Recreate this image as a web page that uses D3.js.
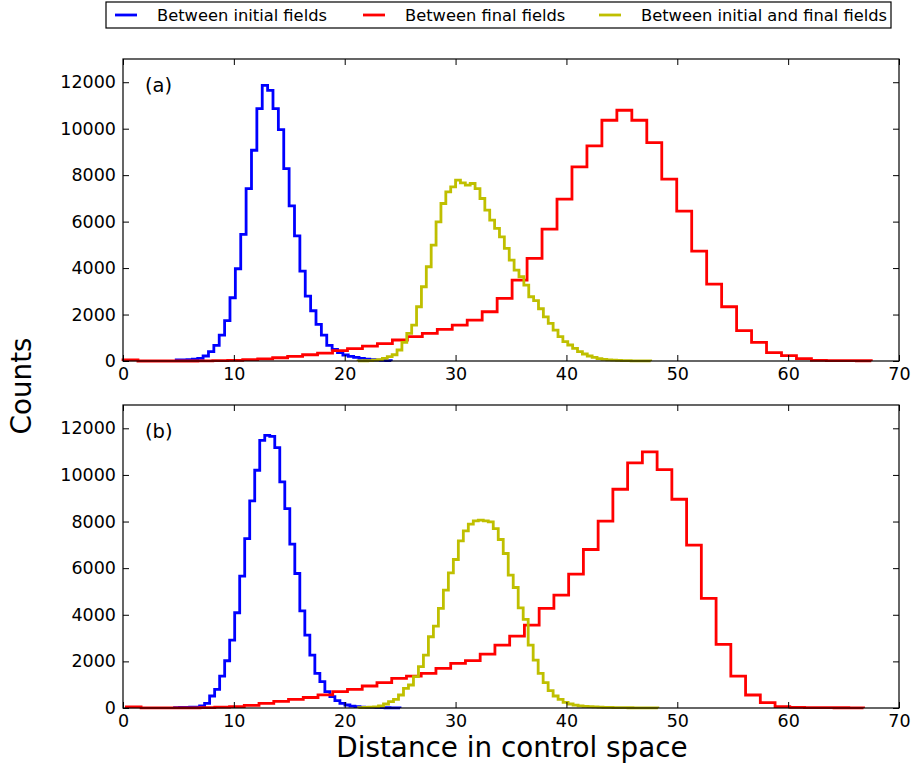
<!DOCTYPE html>
<html>
<head>
<meta charset="utf-8">
<script src="https://cdn.jsdelivr.net/npm/d3@7"></script>
<style>
  body { margin: 0; background: #fff; }
  svg { display: block; font-family: "DejaVu Sans", sans-serif; }
</style>
</head>
<body>
<svg id="grafico" width="912" height="767"></svg>
<script>
// nomes das series (legenda)
var nomesSeries = ["Between initial fields", "Between final fields", "Between initial and final fields"];
var coresSeries = ["#0000ff", "#ff0000", "#bfbf00"];
var rotulosPaineis = ["(a)", "(b)"];

var ticksX = [0, 10, 20, 30, 40, 50, 60, 70];
var ticksY = [0, 2000, 4000, 6000, 8000, 10000, 12000];

// bins: inicio e largura de cada histograma
var inicioBinsA = [4.8, 0.0, 21.2];
var larguraBinsA = [0.485, 1.35, 0.44];
var inicioBinsB = [4.65, 0.3, 21.25];
var larguraBinsB = [0.452, 1.33, 0.45];

// painel (a)
var iniciaisA = [50, 50, 60, 80, 115, 215, 402, 674, 1118, 1734,
  2723, 3970, 5447, 7424, 9073, 10865, 11868, 11653, 10865, 9962,
  8285, 6679, 5390, 3870, 2795, 2164, 1577, 1118, 674, 502,
  358, 258, 200, 158, 110, 80, 60, 40, 30, 20];
var finaisA = [50, 0, 0, 0, 0, 5, 15, 30, 55, 90,
  140, 200, 270, 340, 450, 530, 637, 752, 903, 1046,
  1190, 1362, 1548, 1763, 2121, 2695, 3483, 4415, 5676, 6966,
  8355, 9258, 10363, 10793, 10363, 9403, 7826, 6450, 4730, 3311,
  2336, 1304, 802, 358, 229, 100, 30, 20, 15, 10];
var cruzadosA = [5, 10, 20, 35, 60, 110, 186, 270, 473, 800,
  1190, 1548, 2336, 3196, 4057, 4988, 5991, 6780, 7281, 7496,
  7783, 7668, 7568, 7640, 7424, 6995, 6493, 6063, 5705, 5347,
  4845, 4343, 3913, 3626, 3268, 2766, 2600, 2250, 1900, 1619,
  1333, 1046, 831, 688, 545, 401, 301, 215, 158, 100,
  72, 50, 35, 25, 18, 12, 9, 6, 4, 3];

// painel (b)
var iniciaisB = [20, 25, 30, 35, 40, 86, 200, 514, 800, 1371,
  2028, 2914, 4086, 5657, 7271, 8886, 10200, 11486, 11700, 11657,
  11171, 9700, 8557, 7028, 5771, 4171, 3129, 2271, 1486, 1128,
  700, 486, 314, 200, 129, 80, 57, 40, 30, 25,
  20, 15, 10, 8, 5];
var finaisB = [50, 5, 5, 5, 5, 15, 35, 60, 110, 200,
  280, 370, 450, 560, 700, 800, 943, 1086, 1271, 1371,
  1486, 1700, 1914, 2029, 2314, 2700, 3086, 3557, 4271, 4843,
  5743, 6800, 8014, 9386, 10514, 10986, 10229, 8957, 6986, 4700,
  2729, 1371, 557, 229, 57, 30, 20, 15, 10, 5];
var cruzadosB = [15, 25, 35, 50, 86, 171, 271, 371, 557, 843,
  986, 1343, 1771, 2271, 3057, 3514, 4271, 5057, 5800, 6371,
  7171, 7600, 7886, 8029, 8057, 8029, 7986, 7700, 7229, 6629,
  5700, 5171, 4300, 3800, 2700, 2057, 1486, 1086, 743, 514,
  371, 243, 171, 120, 90, 70, 55, 45, 35, 30,
  25, 20, 16, 13, 10, 8, 6, 5, 4, 3];

var paineis = [
  { rotulo: rotulosPaineis[0], topo: 59, base: 361, series: [iniciaisA, finaisA, cruzadosA], inicio: inicioBinsA, largura: larguraBinsA },
  { rotulo: rotulosPaineis[1], topo: 405, base: 708, series: [iniciaisB, finaisB, cruzadosB], inicio: inicioBinsB, largura: larguraBinsB }
];

var svg = d3.select("#grafico");
var esquerda = 123, direita = 899;

var x = d3.scaleLinear().domain([0, 70]).range([esquerda, direita]);

function pontosDegrau(valores, inicio, largura) {
  // contorno tipo "step" do matplotlib
  var pts = [[inicio, 0]];
  valores.forEach(function(v, i) {
    pts.push([inicio + i * largura, v]);
    pts.push([inicio + (i + 1) * largura, v]);
  });
  pts.push([inicio + valores.length * largura, 0]);
  return pts;
}

paineis.forEach(function(p) {
  var y = d3.scaleLinear().domain([0, 13000]).range([p.base, p.topo]);
  var g = svg.append("g");

  var linha = d3.line()
    .x(function(d) { return x(d[0]); })
    .y(function(d) { return y(d[1]); });

  p.series.forEach(function(valores, i) {
    g.append("path")
      .attr("d", linha(pontosDegrau(valores, p.inicio[i], p.largura[i])))
      .attr("fill", "none")
      .attr("stroke", coresSeries[i])
      .attr("stroke-width", 2.8)
      .attr("stroke-linejoin", "miter");
  });

  // eixos com ticks para dentro
  var eixoBaixo = g.append("g")
    .attr("transform", "translate(0," + p.base + ")")
    .call(d3.axisBottom(x).tickValues(ticksX).tickSize(-6).tickPadding(7).tickFormat(d3.format("d")));
  var eixoTopo = g.append("g")
    .attr("transform", "translate(0," + p.topo + ")")
    .call(d3.axisTop(x).tickValues(ticksX).tickSize(-6).tickFormat(""));
  var eixoEsq = g.append("g")
    .attr("transform", "translate(" + esquerda + ",0)")
    .call(d3.axisLeft(y).tickValues(ticksY).tickSize(-6).tickPadding(7).tickFormat(d3.format("d")));
  var eixoDir = g.append("g")
    .attr("transform", "translate(" + direita + ",0)")
    .call(d3.axisRight(y).tickValues(ticksY).tickSize(-6).tickFormat(""));

  [eixoBaixo, eixoTopo, eixoEsq, eixoDir].forEach(function(e) {
    e.select(".domain").remove();
    e.selectAll("line").attr("stroke", "#000");
    e.selectAll("text").attr("font-family", "DejaVu Sans").attr("font-size", 17.5).attr("fill", "#000");
  });

  g.append("rect")
    .attr("x", esquerda).attr("y", p.topo)
    .attr("width", direita - esquerda).attr("height", p.base - p.topo)
    .attr("fill", "none").attr("stroke", "#000").attr("stroke-width", 1.2);

  g.append("text")
    .attr("x", esquerda + 22).attr("y", p.topo + 33)
    .attr("font-size", 19.5)
    .text(p.rotulo);
});

// rotulos dos eixos
svg.append("text")
  .attr("x", 512).attr("y", 757)
  .attr("text-anchor", "middle")
  .attr("font-size", 27.8)
  .text("Distance in control space");

svg.append("text")
  .attr("transform", "translate(31,386) rotate(-90)")
  .attr("text-anchor", "middle")
  .attr("font-size", 27.8)
  .text("Counts");

// legenda
var legenda = svg.append("g");
legenda.append("rect")
  .attr("x", 106).attr("y", 2).attr("width", 785).attr("height", 26)
  .attr("fill", "#fff").attr("stroke", "#000").attr("stroke-width", 1.2);
var posLegenda = [115, 363, 599];
nomesSeries.forEach(function(nome, i) {
  legenda.append("line")
    .attr("x1", posLegenda[i]).attr("x2", posLegenda[i] + 22)
    .attr("y1", 15).attr("y2", 15)
    .attr("stroke", coresSeries[i]).attr("stroke-width", 2.8);
  legenda.append("text")
    .attr("x", posLegenda[i] + 42).attr("y", 21)
    .attr("font-size", 16.3)
    .text(nome);
});
</script>
</body>
</html>
